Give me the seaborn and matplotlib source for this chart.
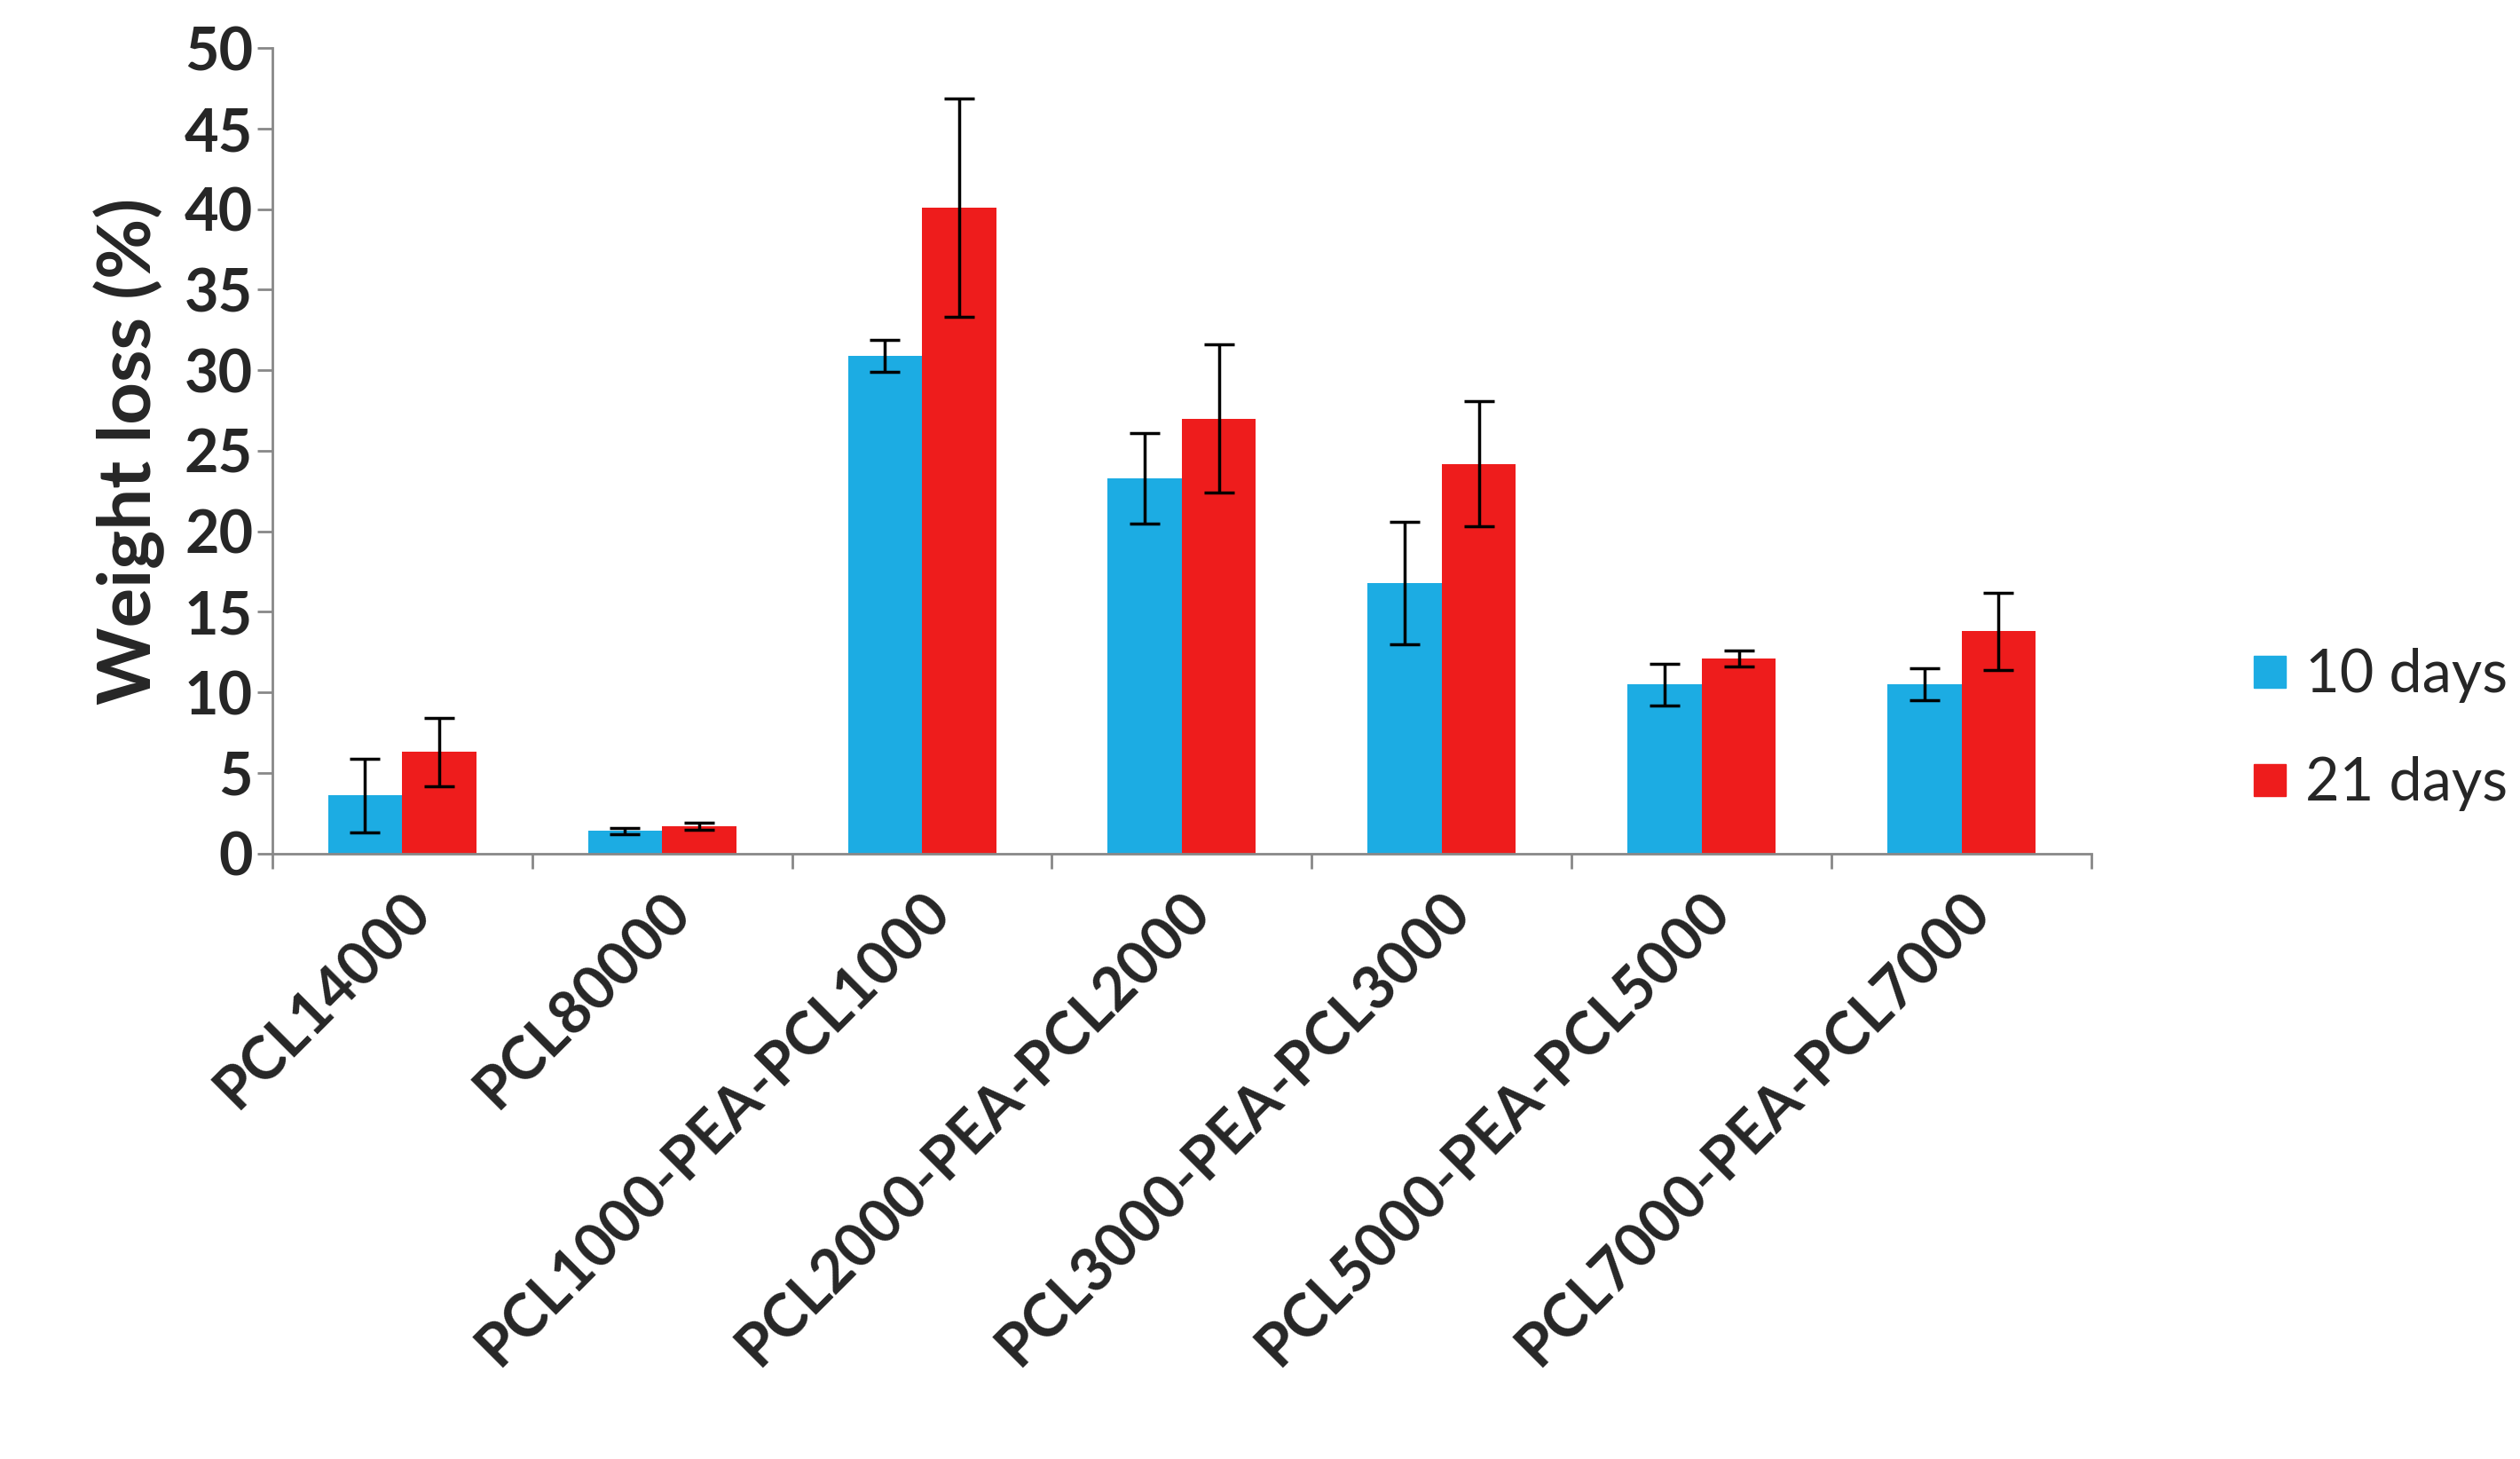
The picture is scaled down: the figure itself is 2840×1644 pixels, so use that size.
import numpy as np
import pandas as pd
import matplotlib
matplotlib.use("Agg")
import matplotlib.pyplot as plt
import seaborn as sns
from matplotlib.lines import Line2D

categories = ["PCL14000", "PCL80000", "PCL1000-PEA-PCL1000", "PCL2000-PEA-PCL2000",
              "PCL3000-PEA-PCL3000", "PCL5000-PEA-PCL5000", "PCL7000-PEA-PCL7000"]
series = ["10 days", "21 days"]
vals_10 = [3.6, 1.4, 30.9, 23.3, 16.8, 10.5, 10.5]
err_10 = [2.3, 0.2, 1.0, 2.8, 3.8, 1.3, 1.0]
vals_21 = [6.3, 1.7, 40.1, 27.0, 24.2, 12.1, 13.8]
err_21 = [2.1, 0.2, 6.8, 4.6, 3.9, 0.5, 2.4]
colors = ["#1CACE3", "#EE1C1C"]

sns.set_style("white")
plt.rcParams['font.family'] = ['Lato', 'DejaVu Sans']

df = pd.DataFrame({
    "cat": categories * 2,
    "series": [series[0]] * 7 + [series[1]] * 7,
    "val": vals_10 + vals_21,
})

fig = plt.figure(figsize=(28.4, 16.44), dpi=100)
ax = fig.add_axes([0.108, 0.415, 0.722, 0.552])
width = 0.57
sns.barplot(data=df, x="cat", y="val", hue="series", palette=colors, width=width,
            errorbar=None, ax=ax, legend=False, saturation=1, edgecolor="none")

x = np.arange(len(categories))
off = width / 4
ax.errorbar(x - off, vals_10, yerr=err_10, fmt="none", ecolor="black", elinewidth=2.5, capsize=12, capthick=2.5)
ax.errorbar(x + off, vals_21, yerr=err_21, fmt="none", ecolor="black", elinewidth=2.5, capsize=12, capthick=2.5)

ax.set_ylim(0, 50)
ax.set_xlim(-0.5, len(categories) - 0.5)
ax.set_yticks(np.arange(0, 51, 5))
ax.tick_params(axis="y", labelsize=48, length=12, width=2, color="#888888", direction="out", left=True)
for t in ax.get_yticklabels():
    t.set_fontweight("bold")
ax.set_xticks(x)
ax.set_xticklabels(categories, rotation=45, ha="right", rotation_mode="anchor", fontsize=48, fontweight="bold")
ax.tick_params(axis="x", which="major", length=0, pad=24)
ax.set_xticks(np.arange(-0.5, len(categories), 1), minor=True)
ax.tick_params(axis="x", which="minor", length=12, width=2, color="#888888", direction="out", bottom=True)
ax.set_xlabel("")
ax.set_ylabel("Weight loss (%)", fontsize=60, fontweight="bold", labelpad=16)
for s in ["top", "right"]:
    ax.spines[s].set_visible(False)
for s in ["left", "bottom"]:
    ax.spines[s].set_color("#888888")
    ax.spines[s].set_linewidth(2)

handles = [Line2D([], [], marker="s", linestyle="none", markersize=26, color=c) for c in colors]
fig.legend(handles, series, loc="center left", bbox_to_anchor=(0.868, 0.5), frameon=False,
           fontsize=48, handletextpad=0.1, labelspacing=0.9, handlelength=1.0)

fig.savefig("out.png", dpi=100)
